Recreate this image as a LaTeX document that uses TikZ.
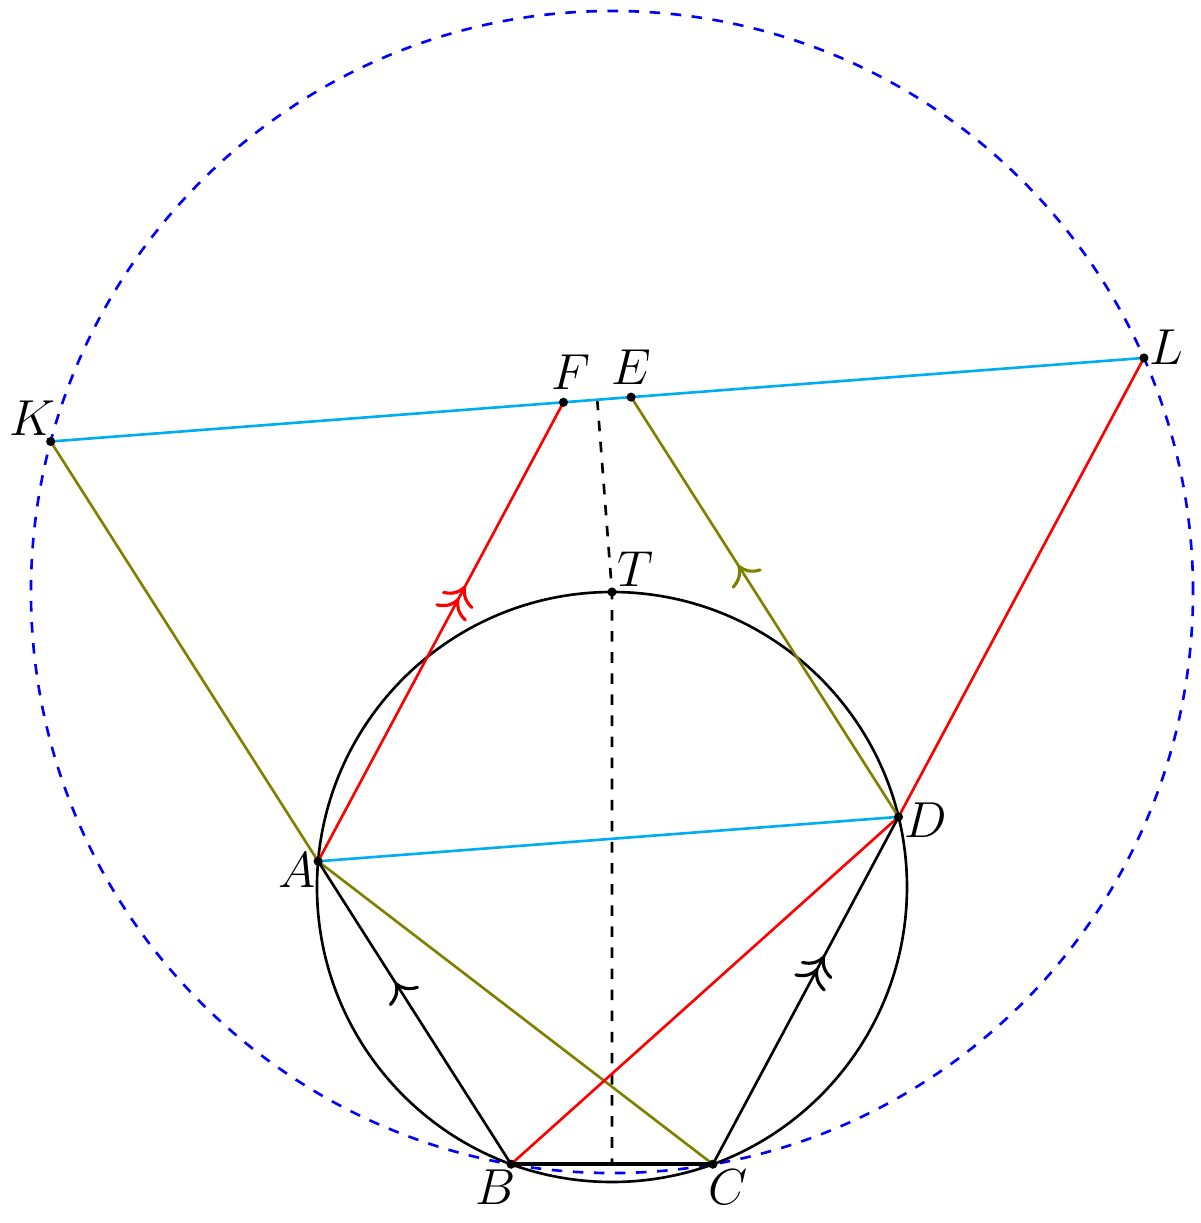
\documentclass[tikz,border=0pt]{standalone}
\usetikzlibrary{calc,intersections,decorations.markings,arrows.meta}
\definecolor{lcyan}{RGB}{0,174,239}
\definecolor{lolive}{RGB}{128,128,0}
\tikzset{
  ln/.style={line width=0.75pt},
  tip/.tip={To[length=5pt,width=10pt,line width=0.9pt]},
  onearrow/.style={postaction={decorate},decoration={markings,
    mark=at position 0.6 with {\arrow{tip}}}},
  twoarrow/.style={postaction={decorate},decoration={markings,
    mark=at position 0.6 with {\arrow{tip}},
    mark=at position 0.6 with {\arrow[xshift=-4pt]{tip}}}},
  dot/.style={circle,fill=black,inner sep=0pt,minimum size=2.6pt},
  lab/.style={inner sep=1.5pt,font=\fontsize{13.5}{16}\selectfont}
}
\begin{document}
\begin{tikzpicture}
\useasboundingbox (-6.12,-3.36) rectangle (5.89,8.87);
\coordinate (O) at (0,0);
\def\r{2.95}
\coordinate (A) at (175:\r);
\coordinate (B) at (250:\r);
\coordinate (C) at (290:\r);
\coordinate (D) at (13.75:\r);
\coordinate (T) at (90:\r);
% big circle radius
\path let \p1=($(B)-(T)$), \n1={veclen(\x1,\y1)} in
  \pgfextra{\xdef\bigR{\n1}};
\path[name path=big] (T) circle[radius=\bigR];
\path[name path=lineBA] (A) -- ($(B)!3.5!(A)$);
\path[name path=lineCD] (D) -- ($(C)!3.5!(D)$);
\path[name intersections={of=big and lineBA,by=K}];
\path[name intersections={of=big and lineCD,by=L}];
\coordinate (Ap) at ($(A)+(D)-(C)$);
\coordinate (Dp) at ($(D)+(A)-(B)$);
\coordinate (F) at (intersection of K--L and A--Ap);
\coordinate (E) at (intersection of K--L and D--Dp);
\coordinate (H) at ($(K)!(T)!(L)$);
\coordinate (M) at ($(B)!0.5!(C)$);
% circles
\draw[blue,dashed,ln] (T) circle[radius=\bigR];
\draw[ln] (O) circle[radius=\r];
% dashed
\draw[dashed,ln] (H) -- (T) -- (M);
% lines
\draw[lcyan,ln] (K) -- (L);
\draw[lcyan,ln] (A) -- (D);
\draw[lolive,ln] (K) -- (A) -- (C);
\draw[lolive,ln,onearrow] (D) -- (E);
\draw[red,ln,twoarrow] (A) -- (F);
\draw[red,ln] (B) -- (D) -- (L);
\draw[ln,onearrow] (B) -- (A);
\draw[ln,twoarrow] (C) -- (D);
\draw[line width=1.1pt] (B) -- (C);
% points
\foreach \p in {A,B,C,D,E,F,K,L,T} \node[dot] (n\p) at (\p) {};
\node[lab,above left,xshift=3pt] (lK) at (K) {$K$};
\node[lab,right,yshift=3pt] (lL) at (L) {$L$};
\node[lab,above right,xshift=-5pt,yshift=2pt] (lF) at (F) {$F$};
\node[lab,above,yshift=2pt] (lE) at (E) {$E$};
\node[lab,above right] (lT) at (T) {$T$};
\node[lab,below left,xshift=1pt,yshift=4pt] (lA) at (A) {$A$};
\node[lab,right,yshift=-1pt] (lD) at (D) {$D$};
\node[lab,below left,xshift=3pt] (lB) at (B) {$B$};
\node[lab,below right,xshift=-3pt] (lC) at (C) {$C$};
\end{tikzpicture}
\end{document}
